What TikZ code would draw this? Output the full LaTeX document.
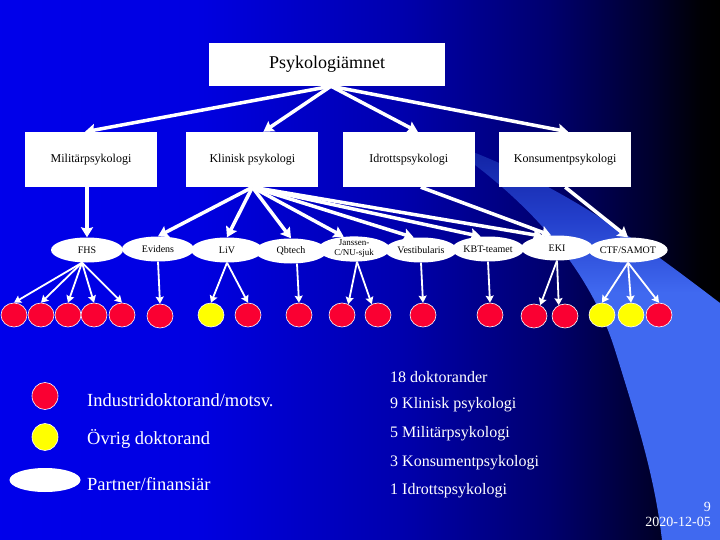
\documentclass[tikz,border=0pt]{standalone}
\usepackage{fontspec}
\setmainfont{Liberation Serif}
\usetikzlibrary{arrows.meta,shapes.geometric,positioning}
\definecolor{docred}{RGB}{250,0,50}
\definecolor{docyellow}{RGB}{255,255,0}
\pgfdeclarehorizontalshading{bgshade}{100bp}{rgb(0bp)=(0,0,.92); rgb(25bp)=(0,0,.92);
 rgb(38.9bp)=(0,0,.88); rgb(52.8bp)=(0,0,.68); rgb(63.2bp)=(0,0,.43); rgb(70.1bp)=(0,0,.18);
 rgb(73.6bp)=(0,0,.02); rgb(75bp)=(0,0,0); rgb(100bp)=(0,0,0)}
\pgfdeclareverticalshading{swooshshade}{100bp}{rgb(0bp)=(.25,.41,.94); rgb(56bp)=(.25,.41,.94);
 rgb(65bp)=(.14,.25,.8); rgb(75bp)=(.06,.12,.62); rgb(100bp)=(.06,.12,.62)}

\begin{document}
\begin{tikzpicture}[x=1pt,y=-1pt,
 box/.style={fill=white,minimum width=132pt,minimum height=55pt,inner sep=0pt,
 font=\fontsize{12}{14}\selectfont},
 partner/.style={ellipse,fill=white,minimum width=72pt,minimum height=25pt,inner sep=0pt,
 align=center,font=\fontsize{10}{10}\selectfont},
 indstud/.style={ellipse,fill=docred,draw=white,line width=.6pt,minimum width=26pt,
 minimum height=24pt,inner sep=0pt},
 othstud/.style={indstud,fill=docyellow},
 link/.style={white,line width=3.5pt,-{Stealth[length=10pt,width=12pt,inset=1.5pt]}},
 sublink/.style={white,line width=1.8pt,-{Stealth[length=7pt,width=8pt,inset=1pt]}},
 legtext/.style={anchor=west,text=white,inner sep=0pt,font=\fontsize{18.5}{20}\selectfont},
 tally/.style={anchor=west,text=white,inner sep=0pt,font=\fontsize{16}{18}\selectfont}]
\useasboundingbox (0,0) rectangle (720,540);
\shade[shading=bgshade] (0,0) rectangle (720,540);
\shade[shading=swooshshade]
 (440,140) .. controls (530,200) and (590,270) .. (615,350)
 .. controls (640,430) and (655,480) .. (662,540) -- (720,540) -- (720,303)
 .. controls (650,250) and (560,180) .. (440,140) -- cycle;

\node[fill=white,minimum width=236pt,minimum height=43pt,inner sep=0pt,
 font=\fontsize{18}{20}\selectfont] (psy) at (327,64.5) {Psykologiämnet};
\node[box] (mil) at (91,159.5) {Militärpsykologi};
\node[box,right=29pt of mil] (kli) {Klinisk psykologi};
\node[box,right=24pt of kli] (idr) {Idrottspsykologi};
\node[box,right=24pt of idr] (kon) {Konsumentpsykologi};

\node[partner] (fhs) at (87,250) {FHS};
\node[partner] (evi) at (158,249) {Evidens};
\node[partner] (liv) at (227,250) {LiV};
\node[partner] (qbt) at (291,251) {Qbtech};
\node[partner,font=\fontsize{9}{10}\selectfont] (jan) at (354,249) {Janssen-\\C/NU-sjuk};
\node[partner] (ves) at (421,250) {Vestibularis};
\node[partner] (kbt) at (488,249) {KBT-teamet};
\node[partner] (eki) at (557,248) {EKI};
\node[partner] (ctf) at (628,250) {CTF/SAMOT};

\node[indstud] (fhs1) at (14,315) {};
\node[indstud] (fhs2) at (41,315) {};
\node[indstud] (fhs3) at (68,315) {};
\node[indstud] (fhs4) at (94,315) {};
\node[indstud] (fhs5) at (122,315) {};
\node[indstud] (evi1) at (160,316) {};
\node[othstud] (liv1) at (211,315) {};
\node[indstud] (liv2) at (248,315) {};
\node[indstud] (qbt1) at (299,315) {};
\node[indstud] (jan1) at (342,315) {};
\node[indstud] (jan2) at (378,315) {};
\node[indstud] (ves1) at (423,315) {};
\node[indstud] (kbt1) at (490,315) {};
\node[indstud] (eki1) at (534,316) {};
\node[indstud] (eki2) at (565,316) {};
\node[othstud] (ctf1) at (602,315) {};
\node[othstud] (ctf2) at (631,315) {};
\node[indstud] (ctf3) at (659,315) {};

% top level
\draw[link] ([xshift=4pt]psy.south) -- ([xshift=-6pt]mil.north);
\draw[link] ([xshift=4pt]psy.south) -- ([xshift=11pt]kli.north);
\draw[link] ([xshift=4pt]psy.south) -- ([xshift=9pt]idr.north);
\draw[link] ([xshift=4pt]psy.south) -- ([xshift=3pt]kon.north);
% subjects to partners
\draw[link] (mil.south -| fhs.north) -- (fhs.north);
\draw[link] (kli.south) -- (evi.north);
\draw[link] (kli.south) -- (liv.north);
\draw[link] (kli.south) -- (qbt.north);
\draw[link] (kli.south) -- (jan.130);
\draw[link] (kli.south) -- (ves.120);
\draw[link] (kli.south) -- (kbt.120);
\draw[link] (kli.south) -- (eki.140);
\draw[link] ([xshift=12pt]idr.south) -- (eki.115);
\draw[link] (kon.south) -- (ctf.north);
% partners to students
\foreach \s in {fhs1,fhs2,fhs3,fhs4,fhs5} \draw[sublink] ([xshift=-5pt]fhs.south) -- (\s.north);
\draw[sublink] (evi.south) -- (evi1.north);
\draw[sublink] (liv.south) -- (liv1.north);
\draw[sublink] (liv.south) -- (liv2.north);
\draw[sublink] ([xshift=6pt]qbt.south) -- (qbt1.north);
\draw[sublink] ([xshift=3pt]jan.south) -- (jan1.60);
\draw[sublink] ([xshift=3pt]jan.south) -- (jan2.120);
\draw[sublink] (ves.south) -- (ves1.north);
\draw[sublink] (kbt.south) -- (kbt1.north);
\draw[sublink] (eki.south) -- (eki1.60);
\draw[sublink] (eki.south) -- (eki2.120);
\draw[sublink] (ctf.south) -- (ctf1.north);
\draw[sublink] (ctf.south) -- (ctf2.north);
\draw[sublink] (ctf.south) -- (ctf3.north);

% legend
\node[indstud,minimum width=26pt,minimum height=27pt] (legind) at (45,396) {};
\node[othstud,minimum width=26pt,minimum height=27pt] (legovr) at (45,437) {};
\node[partner,minimum width=71pt,minimum height=24pt] (legpar) at (45,480) {};
\node[legtext] (legindtext) at (87,400) {Industridoktorand/motsv.};
\node[legtext] (legovrtext) at (87,439) {Övrig doktorand};
\node[legtext] (legpartext) at (87,484) {Partner/finansiär};

\node[tally] (total) at (390,377) {18 doktorander};
\node[tally] (nkli) at (390,405) {9 Klinisk psykologi};
\node[tally] (nmil) at (390,434) {5 Militärpsykologi};
\node[tally] (nkon) at (390,463) {3 Konsumentpsykologi};
\node[tally] (nidr) at (390,491) {1 Idrottspsykologi};

\node[anchor=east,text=white,inner sep=0pt,font=\fontsize{14}{16}\selectfont] (pageno) at (711,507) {9};
\node[anchor=east,text=white,inner sep=0pt,font=\fontsize{14}{16}\selectfont] (date) at (711,522) {2020-12-05};
\end{tikzpicture}
\end{document}
